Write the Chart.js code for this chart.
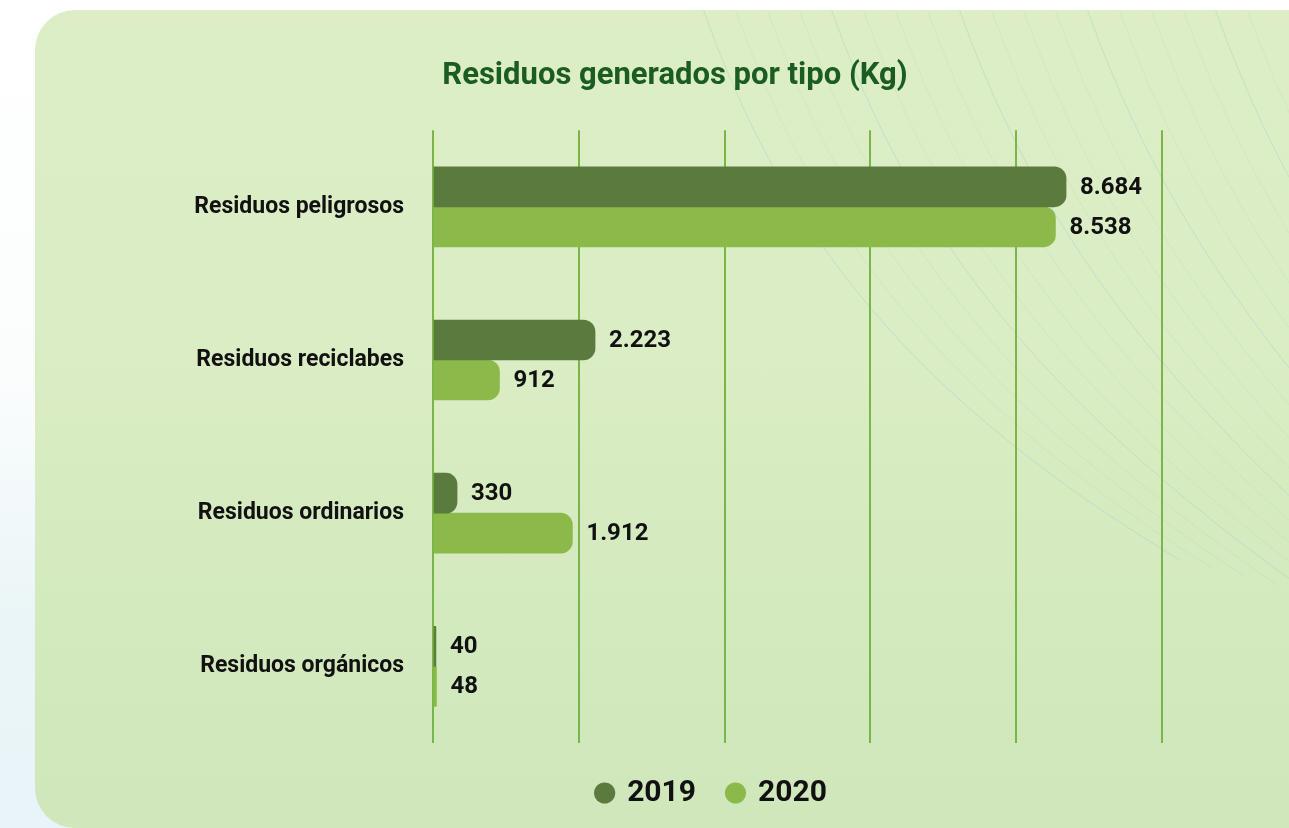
<!DOCTYPE html>
<html lang="es">
<head>
<meta charset="utf-8">
<title>Residuos generados por tipo (Kg)</title>
<script src="https://cdn.jsdelivr.net/npm/chart.js@4.4.1/dist/chart.umd.min.js"></script>
<style>
  html, body {
    margin: 0;
    padding: 0;
    width: 1289px;
    height: 828px;
    overflow: hidden;
    background: linear-gradient(180deg, #ffffff 0%, #fbfdfd 45%, #eaf5f7 75%, #e8f4f8 100%);
  }
  .panel {
    position: absolute;
    left: 35px;
    top: 10px;
    width: 1300px;
    height: 818px;
    border-radius: 40px;
    background: linear-gradient(180deg, #ddeec6 0%, #dbedc4 40%, #d3e9be 75%, #cfe7bb 100%);
  }
  #chart {
    position: absolute;
    left: 0;
    top: 0;
  }
</style>
</head>
<body>
<div class="panel"></div>
<canvas id="chart" width="1289" height="828"></canvas>
<script>
    const categories = ["Residuos peligrosos", "Residuos reciclabes", "Residuos ordinarios", "Residuos orgánicos"];
    const years = ["2019", "2020"];
    const values2019 = [8684, 2223, 330, 40];
    const values2020 = [8538, 912, 1912, 48];
    const xTicks = [0, 2000, 4000, 6000, 8000, 10000];

    const darkGreen = "#5a7a3e";
    const lightGreen = "#8bba4b";
    const fontFamily = "Roboto, 'Noto Sans', sans-serif";

    // "8684" -> "8.684"
    function formatKg(v) {
        return String(v).replace(/\B(?=(\d{3})+(?!\d))/g, ".");
    }

    // Faint wavy lines across the upper right of the panel
    const wavesPlugin = {
        id: "waves",
        beforeDraw(chart) {
            const ctx = chart.ctx;
            ctx.save();
            ctx.beginPath();
            ctx.roundRect(35, 10, 1300, 818, 40);
            ctx.clip();
            ctx.lineWidth = 1;
            for (let i = 0; i < 18; i++) {
                const sx = 700 + i * 32;
                ctx.strokeStyle = i % 4 === 0 ? "rgba(150, 205, 205, 0.4)" : "rgba(165, 210, 195, 0.22)";
                ctx.beginPath();
                ctx.moveTo(sx, 0);
                ctx.bezierCurveTo(sx + 70, 200, sx + 180, 380, sx + 480, 560 + i * 8);
                ctx.stroke();
            }
            ctx.restore();
        }
    };

    // Value labels to the right of each bar
    const valueLabels = {
        id: "valueLabels",
        afterDatasetsDraw(chart) {
            const ctx = chart.ctx;
            ctx.save();
            ctx.font = "bold 24px " + fontFamily;
            ctx.fillStyle = "#111111";
            ctx.textBaseline = "middle";
            ctx.textAlign = "left";
            chart.data.datasets.forEach((ds, di) => {
                chart.getDatasetMeta(di).data.forEach((bar, i) => {
                    ctx.fillText(formatKg(ds.data[i]), bar.x + 14, bar.y + 1);
                });
            });
            ctx.restore();
        }
    };

    // Move the legend a little right of the plot center
    const legendShift = {
        id: "legendShift",
        afterLayout(chart) {
            chart.legend.left += 37;
            chart.legend.right += 37;
        }
    };

    new Chart(document.getElementById("chart"), {
        type: "bar",
        data: {
            labels: categories,
            datasets: [{
                label: years[0],
                data: values2019,
                backgroundColor: darkGreen,
                borderRadius: 12,
                borderSkipped: "start",
                barThickness: 40
            }, {
                label: years[1],
                data: values2020,
                backgroundColor: lightGreen,
                borderRadius: 12,
                borderSkipped: "start",
                barThickness: 40
            }]
        },
        options: {
            indexAxis: "y",
            responsive: false,
            animation: false,
            layout: {
                padding: { left: 188, right: 127, top: 0, bottom: 10 }
            },
            plugins: {
                title: {
                    display: true,
                    text: "Residuos generados por tipo (Kg)",
                    color: "#1b5c22",
                    font: { family: fontFamily, size: 31, weight: "bold" },
                    padding: { top: 58, bottom: 35 }
                },
                legend: {
                    position: "bottom",
                    labels: {
                        usePointStyle: true,
                        pointStyle: "circle",
                        boxWidth: 15,
                        boxHeight: 15,
                        padding: 32,
                        color: "#111111",
                        font: { family: fontFamily, size: 30, weight: "bold" }
                    }
                },
                tooltip: { enabled: false }
            },
            scales: {
                x: {
                    min: 0,
                    max: 10000,
                    afterBuildTicks(scale) {
                        scale.ticks = xTicks.map(v => ({ value: v }));
                    },
                    afterFit(scale) {
                        scale.height = 3;
                    },
                    ticks: { display: false },
                    border: { display: false },
                    grid: { color: "#7ab646", lineWidth: 2, drawTicks: false }
                },
                y: {
                    afterFit(scale) {
                        scale.width = 433 - 188;
                    },
                    ticks: {
                        padding: 21,
                        color: "#111111",
                        font: { family: fontFamily, size: 23, weight: "bold" }
                    },
                    border: { display: false },
                    grid: { display: false }
                }
            }
        },
        plugins: [wavesPlugin, valueLabels, legendShift]
    });
</script>
</body>
</html>
